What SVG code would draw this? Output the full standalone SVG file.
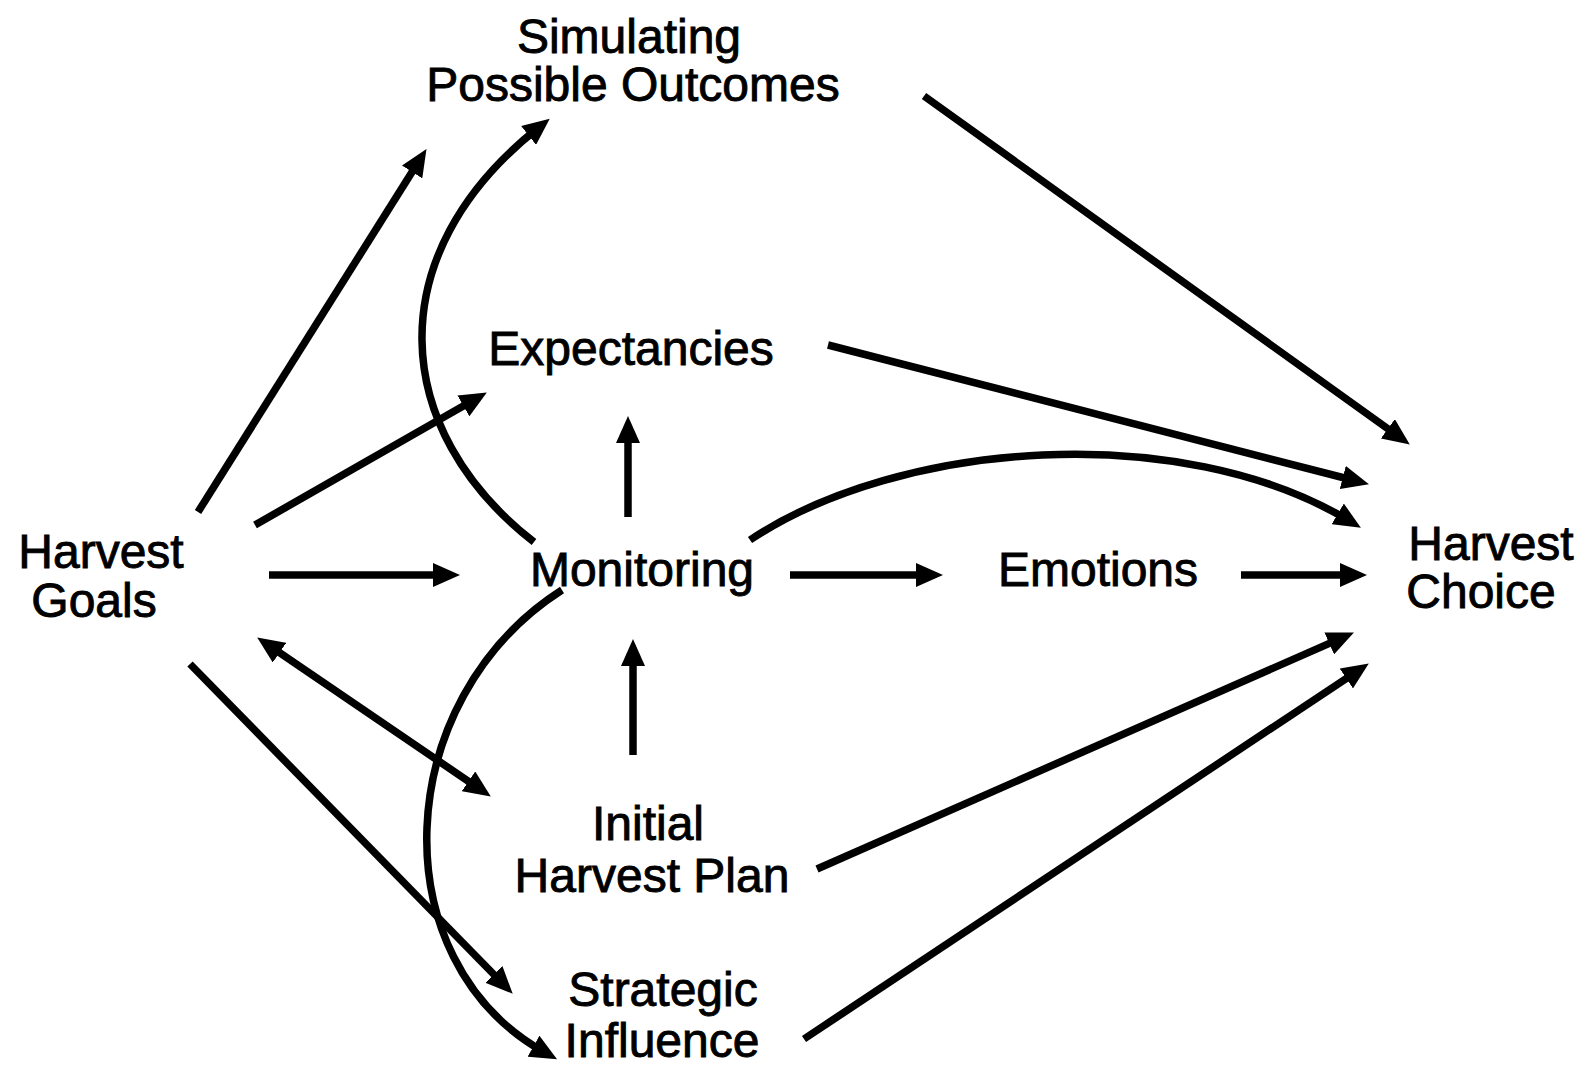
<svg xmlns="http://www.w3.org/2000/svg" width="1589" height="1073" viewBox="0 0 1589 1073">
<style>
.lbl{font-family:"Liberation Sans",Arial,sans-serif;font-size:48px;fill:#000;stroke:#000;stroke-width:0.9;text-anchor:middle}
.c{fill:none;stroke:#000;stroke-width:7.5}
</style>
<defs>
<marker id="ah" viewBox="0 0 27 24" markerWidth="27" markerHeight="24" markerUnits="userSpaceOnUse" refX="12" refY="12" orient="auto-start-reverse">
<path d="M0,0 L27,12 L0,24 Z" fill="#000"/>
</marker>
</defs>
<rect width="1589" height="1073" fill="#fff"/>
<g id="connectors">
<line class="c" x1="198" y1="512" x2="418.5" y2="161.8" marker-end="url(#ah)"/>
<line class="c" x1="255" y1="525" x2="473.8" y2="400" marker-end="url(#ah)"/>
<line class="c" x1="269" y1="575" x2="445" y2="575" marker-end="url(#ah)"/>
<line class="c" x1="269.6" y1="645.9" x2="478.4" y2="788.1" marker-start="url(#ah)" marker-end="url(#ah)"/>
<line class="c" x1="190" y1="664" x2="502.2" y2="983" marker-end="url(#ah)"/>
<path class="c" d="M534,542 C390,430 378,255 538,128" marker-end="url(#ah)"/>
<path class="c" d="M562,590 C390,700 380,960 544,1052" marker-end="url(#ah)"/>
<line class="c" x1="628" y1="517" x2="628" y2="431" marker-end="url(#ah)"/>
<line class="c" x1="633" y1="755" x2="633" y2="654" marker-end="url(#ah)"/>
<line class="c" x1="790" y1="575" x2="928" y2="575" marker-end="url(#ah)"/>
<line class="c" x1="1241" y1="575" x2="1352" y2="575" marker-end="url(#ah)"/>
<line class="c" x1="924" y1="96" x2="1397.6" y2="435.8" marker-end="url(#ah)"/>
<line class="c" x1="828" y1="345" x2="1354.4" y2="480.5" marker-end="url(#ah)"/>
<path class="c" d="M750,540 C900,440 1180,420 1348,520" marker-end="url(#ah)"/>
<line class="c" x1="817" y1="869" x2="1340.2" y2="638.6" marker-end="url(#ah)"/>
<line class="c" x1="804" y1="1039" x2="1356.3" y2="671.8" marker-end="url(#ah)"/>
</g>
<g id="simulating"><text class="lbl" x="629" y="53">Simulating</text><text class="lbl" x="633" y="101">Possible Outcomes</text></g>
<g id="expectancies"><text class="lbl" x="631" y="365">Expectancies</text></g>
<g id="harvest-goals"><text class="lbl" x="101" y="568">Harvest</text><text class="lbl" x="94" y="617">Goals</text></g>
<g id="monitoring"><text class="lbl" x="642" y="586">Monitoring</text></g>
<g id="emotions"><text class="lbl" x="1098" y="586">Emotions</text></g>
<g id="harvest-choice"><text class="lbl" x="1491" y="560">Harvest</text><text class="lbl" x="1481" y="608">Choice</text></g>
<g id="initial-plan"><text class="lbl" x="648" y="840">Initial</text><text class="lbl" x="652" y="892">Harvest Plan</text></g>
<g id="strategic"><text class="lbl" x="663" y="1006">Strategic</text><text class="lbl" x="662" y="1057">Influence</text></g>
</svg>
